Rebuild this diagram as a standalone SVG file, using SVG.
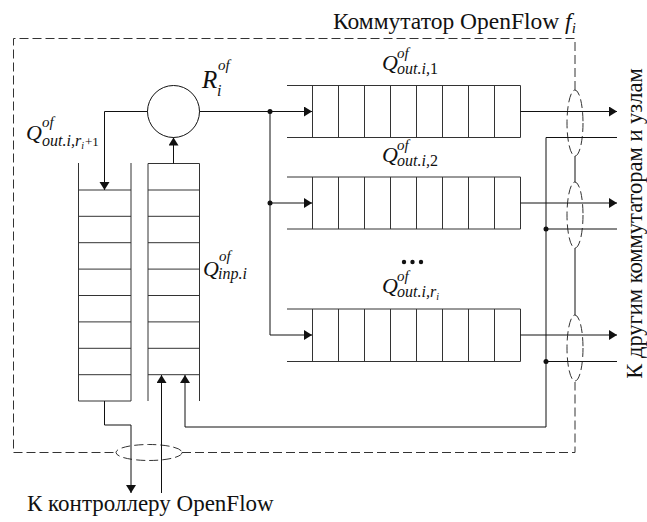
<svg xmlns="http://www.w3.org/2000/svg" width="647" height="522" viewBox="0 0 647 522">
  <style>
    .ln { fill: none; stroke: #111; stroke-width: 1; }
    .cell { fill: none; stroke: #333; stroke-width: 1; }
    .dash { fill: none; stroke: #333; stroke-width: 1; stroke-dasharray: 9 4; }
    text, tspan { font-family: "Liberation Serif", "Times New Roman", serif; fill: #111; }
    .txt { font-style: normal; }
    .it { font-style: italic; }
    .dot { fill: #111; }
  </style>
  <defs>
    <marker id="arr" markerUnits="userSpaceOnUse" markerWidth="10" markerHeight="12" refX="8" refY="5" orient="auto">
      <path d="M0,0 L8,5 L0,10 Z" fill="#111"/>
    </marker>
  </defs>

  <rect width="647" height="522" fill="#fff"/>

  <!-- switch boundary -->
  <g id="switch-frame">
    <path class="dash" d="M575,90 V38.5 H13.5 V452.5 H116"/>
    <path class="dash" d="M182,452.5 H575 V382"/>
    <ellipse class="dash" cx="149" cy="452.5" rx="33" ry="8"/>
    <ellipse class="dash" cx="575" cy="123" rx="8" ry="33"/>
    <ellipse class="dash" cx="575" cy="215" rx="8" ry="33"/>
    <ellipse class="dash" cx="575" cy="348" rx="8" ry="33"/>
    <path class="ln" d="M575,156 V182 M575,248 V315"/>
    <text class="txt" x="333" y="29" font-size="23.5">Коммутатор OpenFlow <tspan class="it">f</tspan><tspan class="it" font-size="15" dy="4">i</tspan></text>
  </g>

  <!-- router -->
  <g id="router">
    <circle class="ln" cx="173.5" cy="111.5" r="26"/>
    <text class="it" x="202" y="88" font-size="25">R</text>
    <text class="it" x="218" y="70" font-size="15">of</text>
    <text class="it" x="217" y="96" font-size="16">i</text>
  </g>

  <!-- queue to controller -->
  <g id="queue-ctrl">
    <path class="cell" d="M78.5,163 V401 H131 V163"/>
    <path class="cell" d="M78.5,190 H131 M78.5,216.3 H131 M78.5,242.7 H131 M78.5,269.1 H131 M78.5,295.5 H131 M78.5,321.9 H131 M78.5,348.3 H131 M78.5,374.7 H131"/>
    <text class="it" x="26" y="140" font-size="22">Q</text>
    <text class="it" x="42" y="127" font-size="15">of</text>
    <text class="it" x="42" y="146" font-size="16">out.i,r<tspan font-size="10" dy="3">i</tspan><tspan class="txt" font-size="13" dx="1" dy="-3">+1</tspan></text>
  </g>

  <!-- input queue -->
  <g id="queue-inp">
    <path class="cell" d="M148,401 V163.5 H199.5 V401"/>
    <path class="cell" d="M148,190 H199.5 M148,216.3 H199.5 M148,242.7 H199.5 M148,269.1 H199.5 M148,295.5 H199.5 M148,321.9 H199.5 M148,348.3 H199.5 M148,374.7 H199.5"/>
    <text class="it" x="203" y="276" font-size="22">Q</text>
    <text class="it" x="219" y="261" font-size="15">of</text>
    <text class="it" x="218" y="279" font-size="16">inp.i</text>
  </g>

  <!-- output queue 1 -->
  <g id="queue-out-1">
    <path class="cell" d="M287,85.5 H520.5 V137.5 H287"/>
    <path class="cell" d="M312.5,85.5 V137.5 M338.5,85.5 V137.5 M364.5,85.5 V137.5 M390.5,85.5 V137.5 M416.5,85.5 V137.5 M442.5,85.5 V137.5 M468.5,85.5 V137.5 M494.5,85.5 V137.5"/>
    <text class="it" x="382" y="70" font-size="22">Q</text>
    <text class="it" x="397" y="58" font-size="15">of</text>
    <text class="it" x="397" y="74" font-size="16">out.i,<tspan class="txt">1</tspan></text>
  </g>

  <!-- output queue 2 -->
  <g id="queue-out-2">
    <path class="cell" d="M287,177 H520.5 V229 H287"/>
    <path class="cell" d="M312.5,177 V229 M338.5,177 V229 M364.5,177 V229 M390.5,177 V229 M416.5,177 V229 M442.5,177 V229 M468.5,177 V229 M494.5,177 V229"/>
    <text class="it" x="382" y="162" font-size="22">Q</text>
    <text class="it" x="397" y="150" font-size="15">of</text>
    <text class="it" x="397" y="166" font-size="16">out.i,<tspan class="txt">2</tspan></text>
  </g>

  <!-- output queue r_i -->
  <g id="queue-out-r">
    <circle class="dot" cx="404" cy="262" r="2.2"/>
    <circle class="dot" cx="412.5" cy="262" r="2.2"/>
    <circle class="dot" cx="421" cy="262" r="2.2"/>
    <path class="cell" d="M287,309 H520.5 V361.5 H287"/>
    <path class="cell" d="M312.5,309 V361.5 M338.5,309 V361.5 M364.5,309 V361.5 M390.5,309 V361.5 M416.5,309 V361.5 M442.5,309 V361.5 M468.5,309 V361.5 M494.5,309 V361.5"/>
    <text class="it" x="382" y="293" font-size="22">Q</text>
    <text class="it" x="397" y="281" font-size="15">of</text>
    <text class="it" x="397" y="297" font-size="16">out.i,r<tspan font-size="10" dy="3">i</tspan></text>
  </g>

  <!-- connectors -->
  <g id="connectors">
    <path class="ln" d="M147.5,111.5 H104.5 V190" marker-end="url(#arr)"/>
    <path class="ln" d="M173.5,163.5 V137.5" marker-end="url(#arr)"/>
    <path class="ln" d="M199.5,111.5 H312" marker-end="url(#arr)"/>
    <path class="ln" d="M270,111.5 V335 H312" marker-end="url(#arr)"/>
    <path class="ln" d="M270,203 H312" marker-end="url(#arr)"/>
    <circle class="dot" cx="270" cy="111.5" r="2.5"/>
    <circle class="dot" cx="270" cy="203" r="2.5"/>

    <path class="ln" d="M520.5,111.5 H617" marker-end="url(#arr)"/>
    <path class="ln" d="M520.5,203 H617" marker-end="url(#arr)"/>
    <path class="ln" d="M520.5,335 H617" marker-end="url(#arr)"/>

    <path class="ln" d="M617,137.5 H546 V427 H185 V375" marker-end="url(#arr)"/>
    <path class="ln" d="M546,229 H617 M546,361.5 H617"/>
    <circle class="dot" cx="546" cy="229" r="2.5"/>
    <circle class="dot" cx="546" cy="361.5" r="2.5"/>

    <path class="ln" d="M104.5,401 V425 H131 V493" marker-end="url(#arr)"/>
    <path class="ln" d="M161.5,493 V375" marker-end="url(#arr)"/>
  </g>

  <!-- external labels -->
  <g id="labels">
    <text class="txt" x="27" y="511" font-size="23">К контроллеру OpenFlow</text>
    <text class="txt" font-size="22.5" text-anchor="middle" transform="translate(641.5,223.5) rotate(-90)">К другим коммутаторам и узлам</text>
  </g>
</svg>
